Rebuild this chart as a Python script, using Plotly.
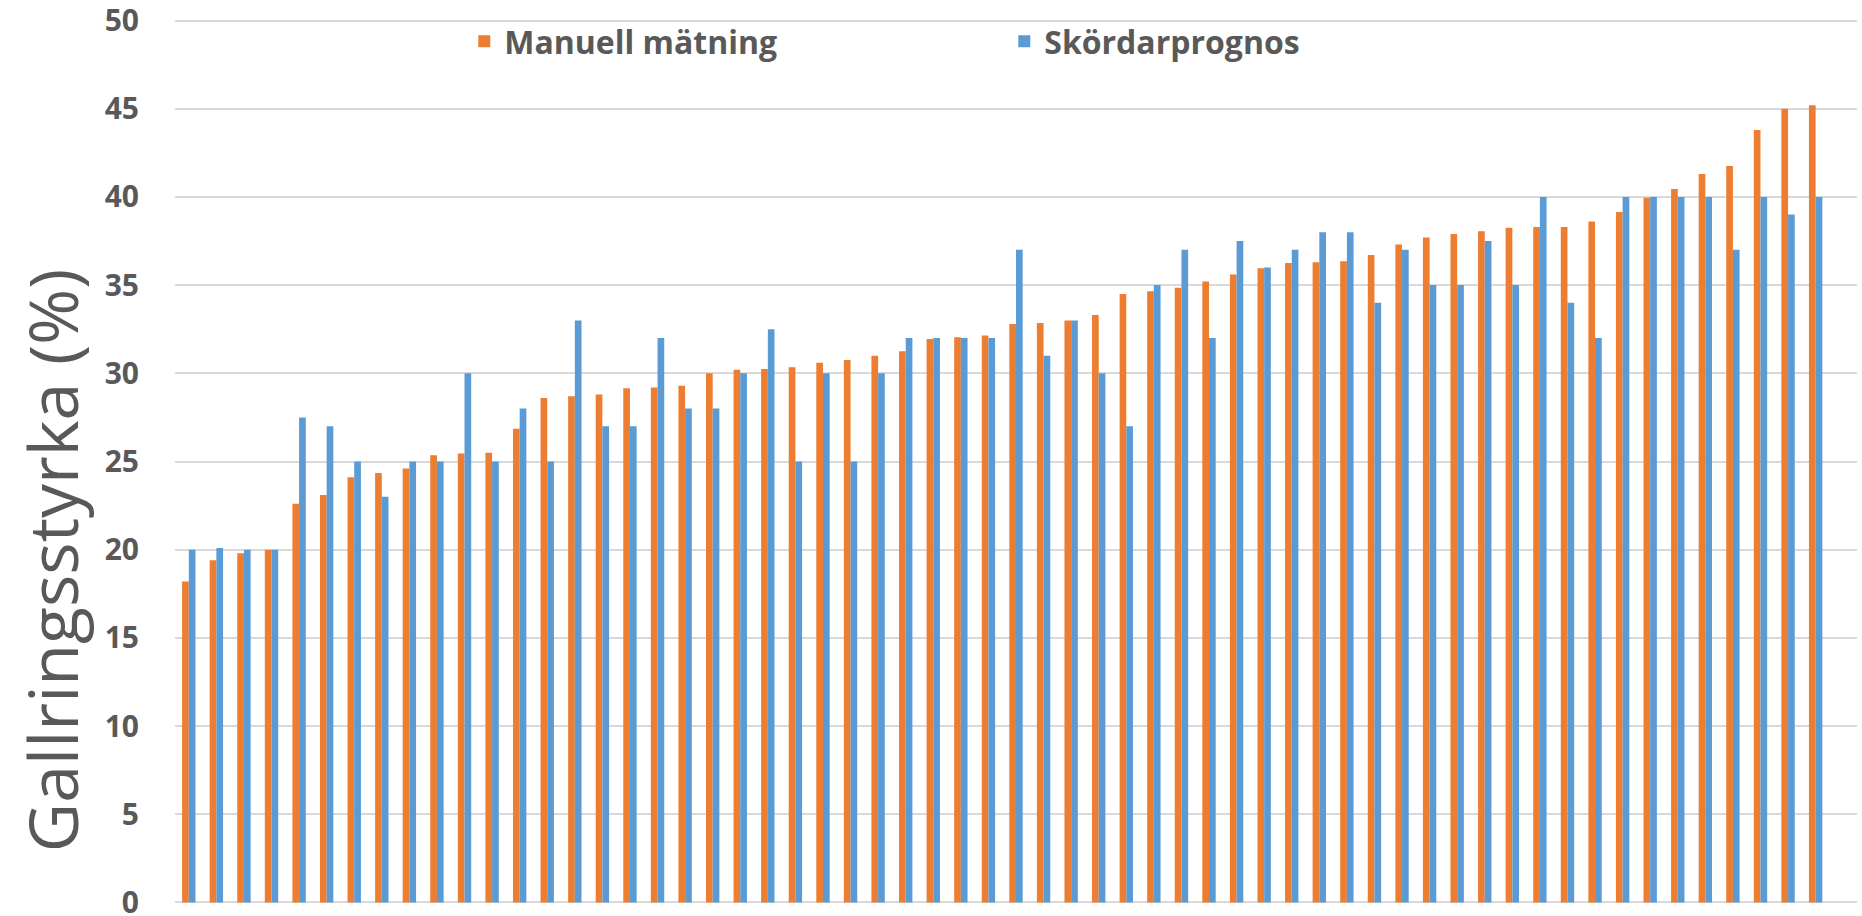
import plotly.graph_objects as go

categories = [str(i) for i in range(1, 62)]

manuell = [18.2, 19.4, 19.8, 20.0, 22.6, 23.1, 24.1, 24.35, 24.6, 25.35,
           25.45, 25.5, 26.85, 28.6, 28.7, 28.8, 29.15, 29.2, 29.3, 30.0,
           30.2, 30.25, 30.35, 30.6, 30.75, 31.0, 31.25, 31.95, 32.05, 32.15,
           32.8, 32.85, 33.0, 33.3, 34.5, 34.65, 34.85, 35.2, 35.6, 35.95,
           36.25, 36.3, 36.35, 36.7, 37.3, 37.7, 37.9, 38.05, 38.25, 38.3,
           38.3, 38.6, 39.15, 39.95, 40.45, 41.3, 41.75, 43.8, 45.0, 45.2, None]

skordar = [20, 20.1, 20, 20, 27.5, 27, 25, 23, 25, 25,
           30, 25, 28, 25, 33, 27, 27, 32, 28, 28,
           30, 32.5, 25, 30, 25, 30, 32, 32, 32, 32,
           37, 31, 33, 30, 27, 35, 37, 32, 37.5, 36,
           37, 38, 38, 34, 37, 35, 35, 37.5, 35, 40,
           34, 32, 40, 40, 40, 40, 37, 40, 39, 40, None]

y_ticks = [0, 5, 10, 15, 20, 25, 30, 35, 40, 45, 50]
y_title = "Gallringsstyrka (%)"

ORANGE = "#ED7D31"
BLUE = "#5B9BD5"
GRAY = "#595959"
FONT = "Open Sans"

fig = go.Figure()
fig.add_trace(go.Bar(x=categories, y=manuell, name="Manuell mätning",
                     marker=dict(color=ORANGE, line=dict(width=0))))
fig.add_trace(go.Bar(x=categories, y=skordar, name="Skördarprognos",
                     marker=dict(color=BLUE, line=dict(width=0))))

fig.update_layout(
    width=1862, height=916,
    margin=dict(l=175, r=5, t=17, b=10, autoexpand=False),
    paper_bgcolor="white", plot_bgcolor="white",
    barmode="group", bargap=0.515, bargroupgap=0,
    font=dict(family=FONT, color=GRAY),
    legend=dict(orientation="h", x=0.172, y=0.9724, xanchor="left", yanchor="middle",
                bgcolor="rgba(0,0,0,0)", borderwidth=0,
                font=dict(family=FONT, size=32, color=GRAY, weight=700),
                entrywidth=495, entrywidthmode="pixels"),
    showlegend=True,
    annotations=[dict(text=y_title, textangle=-90, showarrow=False,
                      xref="paper", yref="paper", x=-0.0737, y=0.389,
                      xanchor="center", yanchor="middle",
                      font=dict(family=FONT, size=68, color=GRAY))],
)
fig.update_xaxes(showticklabels=False, showgrid=False, ticks="",
                 showline=False, zeroline=False, type="category",
                 automargin=False)
fig.update_yaxes(range=[-0.2, 50.2], tickvals=y_ticks,
                 showgrid=True, gridcolor="#D9D9D9", gridwidth=2,
                 zeroline=True, zerolinecolor="#D9D9D9", zerolinewidth=2,
                 showline=False, ticks="", automargin=False,
                 ticklabeloverflow="allow",
                 tickfont=dict(family=FONT, size=30, color=GRAY, weight=700),
                 ticklabelstandoff=35)

fig.write_html("out.html",
               config={"displayModeBar": False},
               post_script="document.body.style.margin='0px';"
                           "document.body.style.overflow='hidden';")
